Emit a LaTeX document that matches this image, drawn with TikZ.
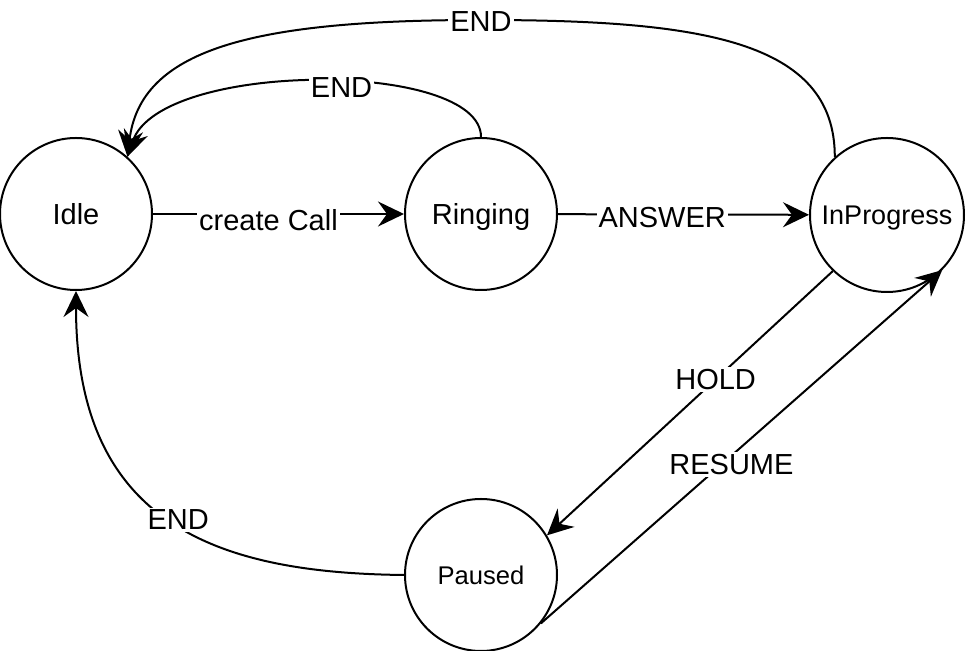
\documentclass[tikz,border=0pt]{standalone}
\usepackage{fontspec}
\setmainfont{Liberation Sans}
\usepackage{tikz}
\usetikzlibrary{arrows.meta}

\begin{document}
\begin{tikzpicture}[x=0.5pt,y=-0.5pt,line width=1pt,
  state/.style={draw,circle,minimum size=76pt,inner sep=0pt,text depth=0pt,font=\fontsize{14.5pt}{17pt}\selectfont},
  lbl/.style={fill=white,inner sep=1pt,font=\fontsize{14.5pt}{17pt}\selectfont},
  arr/.style={-{Stealth[length=13pt,width=12.5pt,inset=4.5pt]}}]
\useasboundingbox (0,0) rectangle (966,651);
\node[state] (idle) at (76,214) {Idle};
\node[state] (ring) at (481,214) {Ringing};
\node[state,minimum size=77pt,font=\fontsize{13.5pt}{16pt}\selectfont] (ip) at (887,215) {InProgress};
\node[state,font=\fontsize{12.8pt}{15pt}\selectfont] (paused) at (481,575) {Paused};
\draw[arr] (idle) -- (ring) node[lbl,pos=0.46,yshift=-3pt]{create Call};
\draw[arr] (ring) -- (ip) node[lbl,pos=0.415,yshift=-1.5pt]{ANSWER};
\draw[arr] (ring.north) .. controls (481,60) and (160,60) .. (idle.48) node[lbl,pos=0.45,yshift=-3pt]{END};
\draw[arr] (ip.132) .. controls (835,40) and (700,20) .. (481,20) node[lbl,yshift=-1pt]{END} .. controls (250,20) and (140,50) .. (idle.48);
\draw[arr] (ip.226) -- (paused.31) node[lbl,pos=0.41]{HOLD};
\draw[arr] (paused.-39) -- (ip.-45) node[lbl,pos=0.45,xshift=5pt]{RESUME};
\draw[arr] (paused.west) .. controls (218,573) and (76,525) .. (idle.south) node[lbl,pos=0.5,xshift=4pt]{END};
\end{tikzpicture}
\end{document}
